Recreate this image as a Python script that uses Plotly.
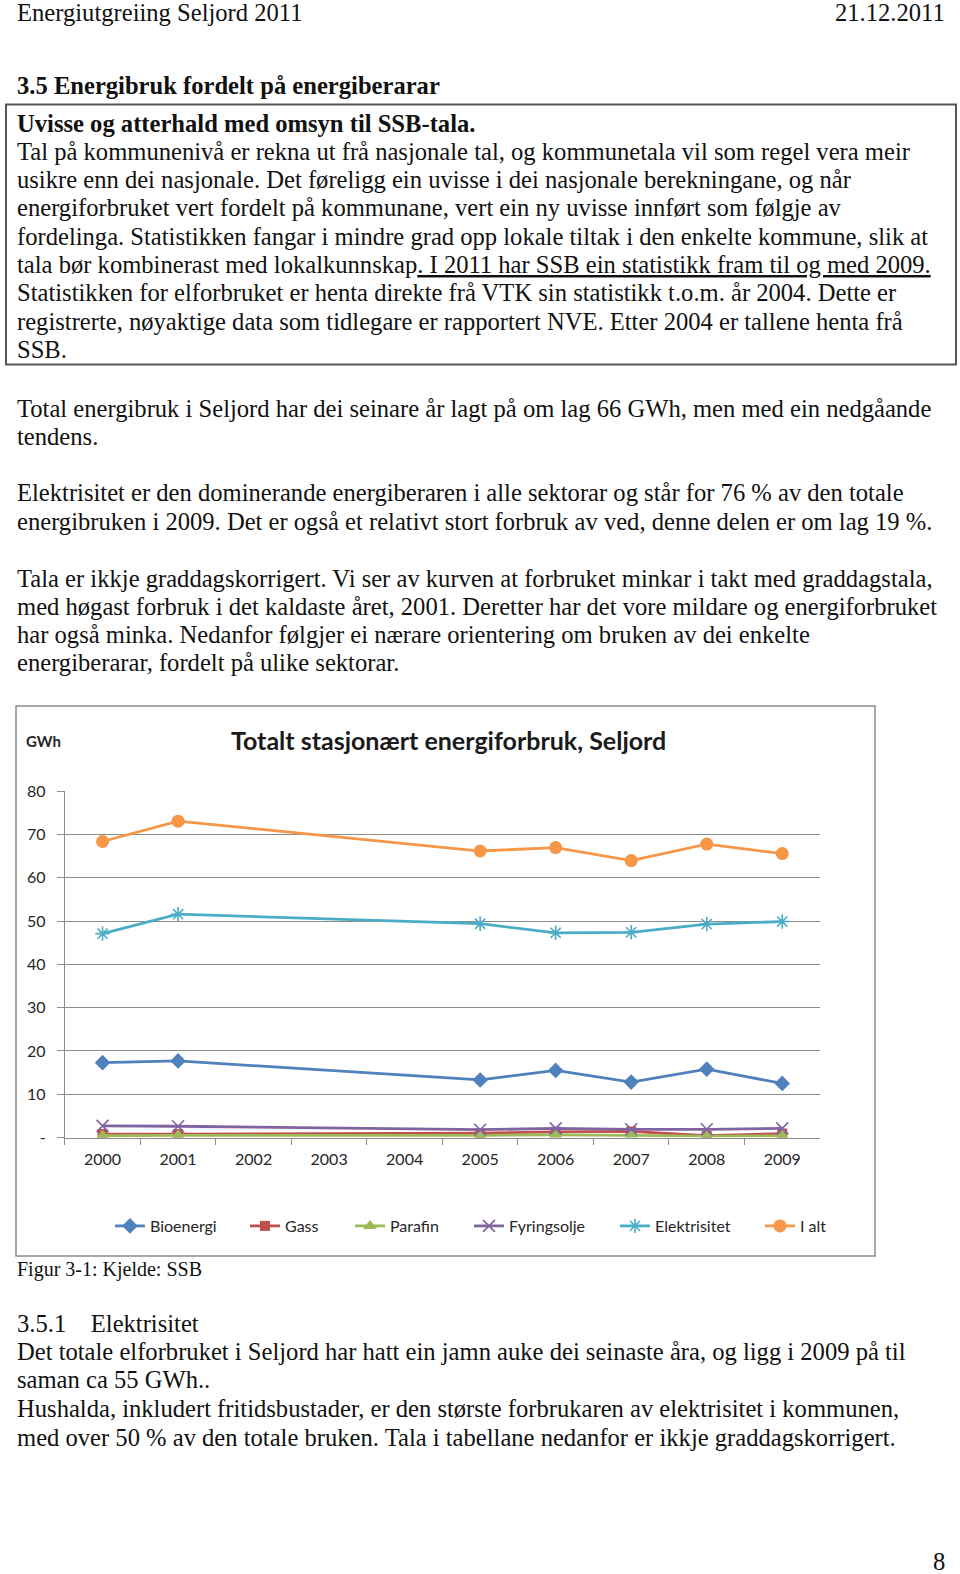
import plotly.graph_objects as go

W, H = 960, 1574

years = ["2000", "2001", "2002", "2003", "2004", "2005", "2006", "2007", "2008", "2009"]
bioenergi = [17.3, 17.7, None, None, None, 13.3, 15.5, 12.8, 15.8, 12.5]
gass = [0.8, 0.8, None, None, None, 1.0, 1.3, 1.4, 0.4, 0.9]
parafin = [0.4, 0.5, None, None, None, 0.5, 0.6, 0.5, 0.3, 0.4]
fyringsolje = [2.7, 2.6, None, None, None, 1.8, 2.1, 1.9, 1.9, 2.1]
elektrisitet = [47.1, 51.6, None, None, None, 49.4, 47.3, 47.4, 49.3, 49.9]
i_alt = [68.4, 73.1, None, None, None, 66.2, 67.0, 64.0, 67.8, 65.6]

y_tickvals = [0, 10, 20, 30, 40, 50, 60, 70, 80]
y_ticktext = ["-", "10", "20", "30", "40", "50", "60", "70", "80"]

series = [
    ("Bioenergi", bioenergi, "#4F81BD", dict(symbol="diamond", size=12), 90),
    ("Gass", gass, "#C0504D", dict(symbol="square", size=10), 60),
    ("Parafin", parafin, "#9BBB59", dict(symbol="triangle-up", size=12), 74),
    ("Fyringsolje", fyringsolje, "#8064A2",
     dict(symbol="x-thin-open", size=12, line=dict(width=1.6, color="#8064A2")), 101),
    ("Elektrisitet", elektrisitet, "#4BACC6",
     dict(symbol="asterisk-open", size=12, line=dict(width=1.6, color="#4BACC6")), 100),
    ("I alt", i_alt, "#F79646", dict(symbol="circle", size=13), 40),
]

header_left = "Energiutgreiing Seljord 2011"
header_right = "21.12.2011"
heading = "3.5 Energibruk fordelt på energiberarar"
box_lines = [
    "<b>Uvisse og atterhald med omsyn til SSB-tala.</b>",
    "Tal på kommunenivå er rekna ut frå nasjonale tal, og kommunetala vil som regel vera meir",
    "usikre enn dei nasjonale. Det føreligg ein uvisse i dei nasjonale berekningane, og når",
    "energiforbruket vert fordelt på kommunane, vert ein ny uvisse innført som følgje av",
    "fordelinga. Statistikken fangar i mindre grad opp lokale tiltak i den enkelte kommune, slik at",
    "tala bør kombinerast med lokalkunnskap<u>. I 2011 har SSB ein statistikk fram til og med 2009.</u>",
    "Statistikken for elforbruket er henta direkte frå VTK sin statistikk t.o.m. år 2004. Dette er",
    "registrerte, nøyaktige data som tidlegare er rapportert NVE. Etter 2004 er tallene henta frå",
    "SSB.",
]
para_lines = [
    (408.7, "Total energibruk i Seljord har dei seinare år lagt på om lag 66 GWh, men med ein nedgåande"),
    (436.8, "tendens."),
    (493.0, "Elektrisitet er den dominerande energiberaren i alle sektorar og står for 76 % av den totale"),
    (521.2, "energibruken i 2009. Det er også et relativt stort forbruk av ved, denne delen er om lag 19 %."),
    (578.4, "Tala er ikkje graddagskorrigert. Vi ser av kurven at forbruket minkar i takt med graddagstala,"),
    (606.5, "med høgast forbruk i det kaldaste året, 2001. Deretter har det vore mildare og energiforbruket"),
    (634.7, "har også minka. Nedanfor følgjer ei nærare orientering om bruken av dei enkelte"),
    (662.8, "energiberarar, fordelt på ulike sektorar."),
    (1323.5, "3.5.1&#160;&#160;&#160;&#160;Elektrisitet"),
    (1351.7, "Det totale elforbruket i Seljord har hatt ein jamn auke dei seinaste åra, og ligg i 2009 på til"),
    (1379.8, "saman ca 55 GWh.."),
    (1408.9, "Hushalda, inkludert fritidsbustader, er den største forbrukaren av elektrisitet i kommunen,"),
    (1437.0, "med over 50 % av den totale bruken. Tala i tabellane nedanfor er ikkje graddagskorrigert."),
]
chart_title = "Totalt stasjonært energiforbruk, Seljord"
unit_label = "GWh"
caption = "Figur 3-1: Kjelde: SSB"
page_no = "8"

SERIF = "Liberation Serif, Times New Roman, serif"
SANS = "Lato, Carlito, Calibri, sans-serif"
BODY = 24.6


def px(x):
    return x / W


def py(y):
    return 1 - y / H


fig = go.Figure()
for name, vals, col, mk, lw in series:
    fig.add_trace(go.Scatter(
        x=years, y=vals, name=name, mode="lines+markers",
        connectgaps=True, legendwidth=lw,
        line=dict(color=col, width=2.8),
        marker=dict(color=col, **mk),
    ))

ann = []


def txt(x, y, s, size=BODY, bold=False, anchor="left", family=SERIF, color="#111111"):
    ann.append(dict(
        x=px(x), y=py(y), xref="paper", yref="paper",
        text=("<b>%s</b>" % s) if bold else s,
        showarrow=False, xanchor=anchor, yanchor="middle",
        font=dict(family=family, size=size, color=color),
    ))


txt(15, 12, header_left)
txt(947, 12, header_right, anchor="right")
txt(15, 85.4, heading, bold=True)
box_y = [123.5, 151.6, 179.8, 207.9, 236.0, 264.1, 292.2, 321.3, 349.5]
for yy, s in zip(box_y, box_lines):
    txt(15, yy, s)
for yy, s in para_lines:
    txt(15, yy, s)
txt(15, 1269.3, caption, size=20)
txt(939, 1561, page_no, anchor="center")

txt(24, 741, unit_label, size=15, bold=True, family=SANS, color="#262626")
txt(448, 740, chart_title, size=25, bold=True, family=SANS, color="#1a1a1a", anchor="center")

shapes = [
    dict(type="rect", xref="paper", yref="paper", x0=px(6), x1=px(956), y0=py(104.5), y1=py(364.5),
         line=dict(color="#555555", width=2)),
    dict(type="rect", xref="paper", yref="paper", x0=px(16), x1=px(875), y0=py(706), y1=py(1256),
         line=dict(color="#8c8c8c", width=1.5)),
]

fig.update_layout(
    width=W, height=H,
    margin=dict(l=0, r=0, t=0, b=0, autoexpand=False),
    paper_bgcolor="white", plot_bgcolor="white",
    annotations=ann, shapes=shapes,
    showlegend=True,
    legend=dict(orientation="h", x=px(110), xanchor="left", y=py(1226), yanchor="middle",
                font=dict(family=SANS, size=16, color="#262626"), bgcolor="rgba(0,0,0,0)",
                itemwidth=30),
    xaxis=dict(domain=[px(64.8), px(820)], type="category", range=[-0.5, 9.5], tickson="boundaries",
               ticks="outside", ticklen=6, tickcolor="#8c8c8c", showline=True, linecolor="#8c8c8c",
               showgrid=False, ticklabelstandoff=7,
               tickfont=dict(family=SANS, size=16, color="#262626"), zeroline=False),
    yaxis=dict(domain=[py(1137.5), py(791.3)], range=[0, 80], tickvals=y_tickvals, ticktext=y_ticktext,
               ticks="outside", ticklen=7, tickcolor="#8c8c8c", showline=True, linecolor="#8c8c8c",
               showgrid=True, gridcolor="#8c8c8c", gridwidth=1, zeroline=False,
               ticklabelstandoff=8,
               tickfont=dict(family=SANS, size=16, color="#262626")),
)

fig.write_html("out.html", config={"displayModeBar": False},
               post_script="document.body.style.margin='0px';")
